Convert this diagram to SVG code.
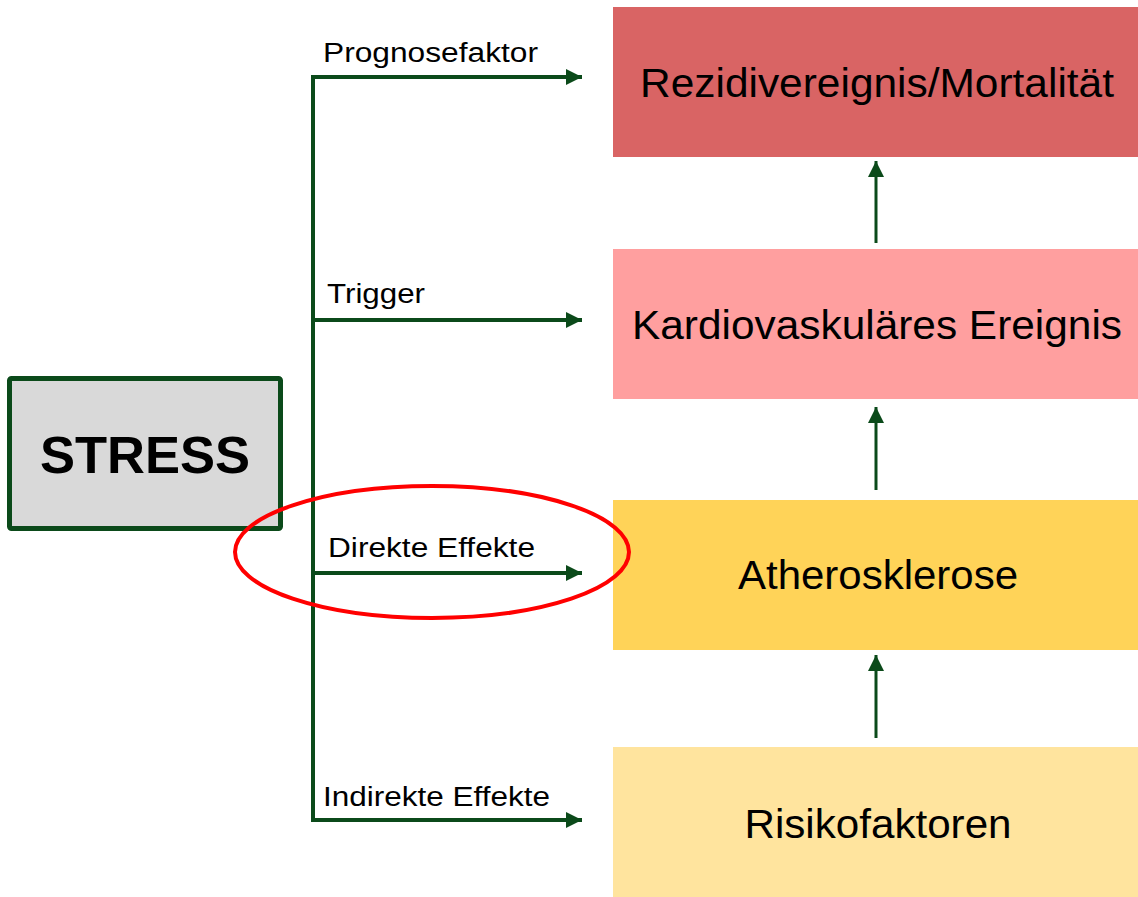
<svg xmlns="http://www.w3.org/2000/svg" width="1138" height="897" viewBox="0 0 1138 897">
<style>
.lbl{font-family:"Liberation Sans",Arial,sans-serif;font-size:27px;fill:#000}
.main{font-family:"Liberation Sans",Arial,sans-serif;font-size:40px;fill:#000;text-anchor:middle}
.conn{stroke:#0b4a1a;stroke-width:4;fill:none}
.up{stroke:#0b4a1a;stroke-width:3;fill:none}
</style>
<defs>
<marker id="ah" markerUnits="userSpaceOnUse" markerWidth="18" markerHeight="18" refX="16" refY="8" orient="auto">
<path d="M0,0 L16,8 L0,16 Z" fill="#0b4a1a"/>
</marker>
</defs>
<rect width="1138" height="897" fill="#fff"/>
<g id="rezidiv">
<rect x="613" y="7" width="525" height="150" fill="#d96464"/>
<text class="main" x="877" y="97" textLength="474" lengthAdjust="spacingAndGlyphs">Rezidivereignis/Mortalität</text>
</g>
<g id="kardio">
<rect x="613" y="249" width="525" height="150" fill="#ff9f9f"/>
<text class="main" x="877" y="339" textLength="490" lengthAdjust="spacingAndGlyphs">Kardiovaskuläres Ereignis</text>
</g>
<g id="athero">
<rect x="613" y="500" width="525" height="150" fill="#ffd358"/>
<text class="main" x="878" y="589" textLength="280" lengthAdjust="spacingAndGlyphs">Atherosklerose</text>
</g>
<g id="risiko">
<rect x="613" y="747" width="525" height="150" fill="#ffe49e"/>
<text class="main" x="878" y="838" textLength="267" lengthAdjust="spacingAndGlyphs">Risikofaktoren</text>
</g>
<g id="stress">
<rect x="9.5" y="378.5" width="271" height="150" rx="2" fill="#d9d9d9" stroke="#0b4a1a" stroke-width="5"/>
<text x="145" y="473" font-family="'Liberation Sans',Arial,sans-serif" font-size="52" font-weight="bold" text-anchor="middle" textLength="210" lengthAdjust="spacingAndGlyphs">STRESS</text>
</g>
<g id="connectors">
<path class="conn" d="M313,820 L313,77"/>
<path class="conn" d="M311,77 L582,77" marker-end="url(#ah)"/>
<path class="conn" d="M313,320 L582,320" marker-end="url(#ah)"/>
<path class="conn" d="M313,573 L582,573" marker-end="url(#ah)"/>
<path class="conn" d="M311,820 L582,820" marker-end="url(#ah)"/>
<path class="up" d="M876,243 L876,161" marker-end="url(#ah)"/>
<path class="up" d="M876,490 L876,407" marker-end="url(#ah)"/>
<path class="up" d="M876,738 L876,655" marker-end="url(#ah)"/>
<text class="lbl" x="323" y="62" textLength="215" lengthAdjust="spacingAndGlyphs">Prognosefaktor</text>
<text class="lbl" x="327" y="303" textLength="98" lengthAdjust="spacingAndGlyphs">Trigger</text>
<text class="lbl" x="328" y="557" textLength="207" lengthAdjust="spacingAndGlyphs">Direkte Effekte</text>
<text class="lbl" x="323" y="806" textLength="227" lengthAdjust="spacingAndGlyphs">Indirekte Effekte</text>
</g>
<ellipse id="highlight" cx="432" cy="552" rx="197" ry="66" fill="none" stroke="#ff0000" stroke-width="4"/>
</svg>
